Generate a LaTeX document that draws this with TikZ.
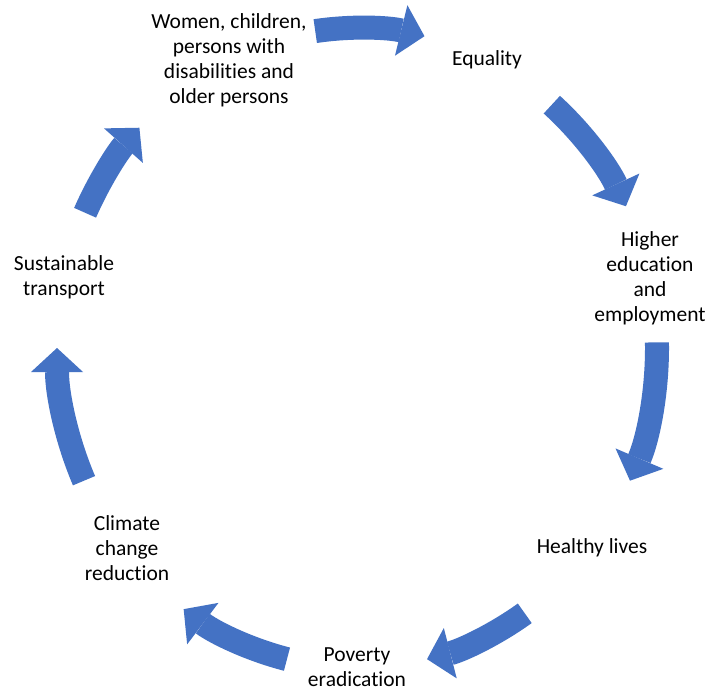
\documentclass[tikz,border=0pt]{standalone}
\usepackage{fontspec}
\setmainfont{Carlito}[Ligatures={NoCommon}]
\usetikzlibrary{arrows.meta,calc}
\definecolor{arrowblue}{HTML}{4472C4}
\tikzset{
  lbl/.style={font=\fontsize{21.5}{25}\selectfont, align=center, inner sep=0pt, text=black},
  cyclearrow/.style={draw=arrowblue, line width=24pt,
    -{Triangle[width=52pt,length=24pt,line width=0pt]}}
}
\begin{document}
\begin{tikzpicture}[x=1pt,y=1pt]
\useasboundingbox[fill=white] (0,0) rectangle (711,694);
\coordinate (c) at (357,346);
\node[lbl] (women) at (229,634) {Women, children,\\persons with\\disabilities and\\older persons};
\node[lbl] (equality) at (487,634) {Equality};
\node[lbl] (higher) at (650,416) {Higher\\education\\and\\employment};
\node[lbl] (healthy) at (592,146) {Healthy lives};
\node[lbl] (poverty) at (357,27) {Poverty\\eradication};
\node[lbl] (climate) at (127,146) {Climate\\change\\reduction};
\node[lbl] (sustainable) at (64,417) {Sustainable\\transport};
\foreach \i/\a/\b in {1/98/77, 2/49.5/26.3, 3/1/-24.5, 4/-56/-76.5, 5/-103.5/-125.3, 6/204.5/180, 7/155/136.5}{
  \coordinate (s\i) at ($(c)+(\a:300pt and 320pt)$);
  \draw[cyclearrow] (s\i) arc[start angle=\a, end angle=\b, x radius=300pt, y radius=320pt];
}
\end{tikzpicture}
\end{document}
